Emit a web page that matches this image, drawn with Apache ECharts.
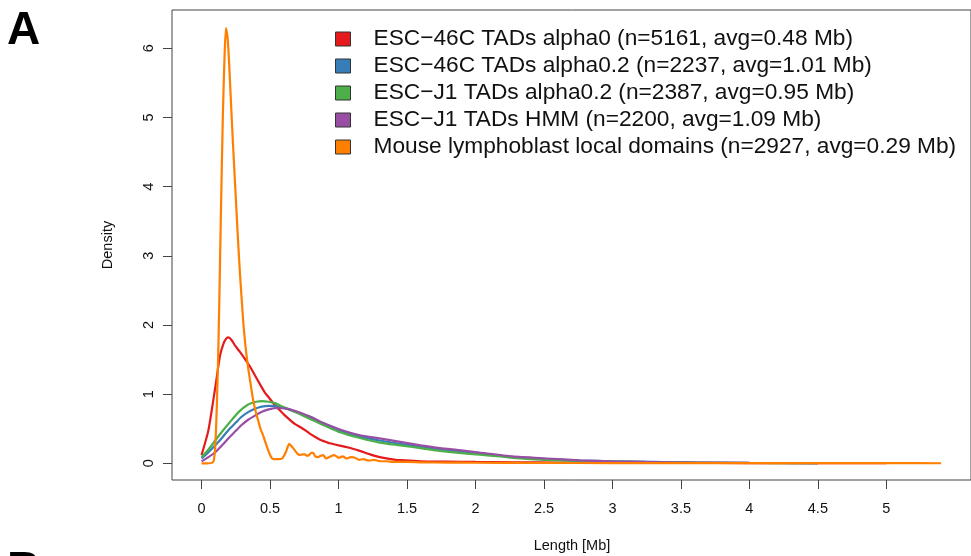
<!DOCTYPE html>
<html>
<head>
<meta charset="utf-8">
<script src="https://cdn.jsdelivr.net/npm/echarts@6/dist/echarts.min.js"></script>
<style>
html,body{margin:0;padding:0;background:#fff;}
#chart{width:971px;height:556px;}
</style>
</head>
<body>
<div id="chart"></div>
<script>
// ---- data ----
const seriesNames = [
  'ESC\u221246C TADs alpha0 (n=5161, avg=0.48 Mb)',
  'ESC\u221246C TADs alpha0.2 (n=2237, avg=1.01 Mb)',
  'ESC\u2212J1 TADs alpha0.2 (n=2387, avg=0.95 Mb)',
  'ESC\u2212J1 TADs HMM (n=2200, avg=1.09 Mb)',
  'Mouse lymphoblast local domains (n=2927, avg=0.29 Mb)'
];
const xTicks = [0, 0.5, 1, 1.5, 2, 2.5, 3, 3.5, 4, 4.5, 5];
const yTicks = [0, 1, 2, 3, 4, 5, 6];

const redX = [0, 0.05, 0.1, 0.135, 0.16, 0.178, 0.195, 0.22, 0.245, 0.28, 0.316, 0.35, 0.39, 0.43, 0.46, 0.5, 0.535, 0.57, 0.61, 0.68, 0.72, 0.755, 0.79, 0.83, 0.865, 0.9, 0.935, 1.01, 1.08, 1.155, 1.23, 1.3, 1.37, 1.45, 1.6, 1.8, 2.0, 2.3, 2.6, 3.0, 3.5, 4.0, 4.5, 5.0];
const redY = [0.12, 0.48, 1.10, 1.56, 1.73, 1.80, 1.82, 1.78, 1.70, 1.61, 1.51, 1.41, 1.27, 1.13, 1.03, 0.93, 0.84, 0.77, 0.69, 0.57, 0.525, 0.48, 0.43, 0.38, 0.34, 0.315, 0.29, 0.255, 0.225, 0.18, 0.13, 0.09, 0.065, 0.045, 0.03, 0.025, 0.02, 0.015, 0.01, 0.008, 0.006, 0.004, 0.003, 0.002];

const blueX = [0, 0.05, 0.1, 0.15, 0.2, 0.25, 0.29, 0.34, 0.39, 0.44, 0.49, 0.56, 0.62, 0.68, 0.74, 0.8, 0.86, 0.9, 1.01, 1.15, 1.3, 1.45, 1.6, 1.74, 1.88, 2.03, 2.18, 2.3, 2.5, 2.75, 3.0, 3.3, 3.6, 4.0, 4.5];
const blueY = [0.07, 0.16, 0.26, 0.37, 0.49, 0.59, 0.67, 0.74, 0.79, 0.82, 0.83, 0.82, 0.79, 0.745, 0.70, 0.65, 0.60, 0.565, 0.47, 0.39, 0.33, 0.28, 0.24, 0.20, 0.17, 0.14, 0.11, 0.085, 0.06, 0.04, 0.03, 0.02, 0.012, 0.006, 0.003];

const greenX = [0, 0.05, 0.1, 0.15, 0.2, 0.27, 0.34, 0.4, 0.44, 0.49, 0.535, 0.58, 0.63, 0.68, 0.73, 0.8, 0.86, 0.9, 1.01, 1.15, 1.3, 1.45, 1.6, 1.74, 1.88, 2.03, 2.18, 2.3, 2.5, 2.75, 3.0, 3.3, 3.6, 4.0, 4.5];
const greenY = [0.09, 0.2, 0.33, 0.46, 0.58, 0.74, 0.85, 0.89, 0.90, 0.89, 0.87, 0.83, 0.79, 0.745, 0.70, 0.635, 0.58, 0.545, 0.45, 0.37, 0.30, 0.26, 0.22, 0.18, 0.15, 0.125, 0.10, 0.075, 0.05, 0.035, 0.025, 0.015, 0.01, 0.005, 0.002];

const purpleX = [0, 0.05, 0.1, 0.15, 0.2, 0.25, 0.29, 0.34, 0.39, 0.44, 0.49, 0.56, 0.62, 0.68, 0.72, 0.8, 0.86, 0.9, 1.01, 1.15, 1.3, 1.45, 1.6, 1.74, 1.88, 2.03, 2.27, 2.52, 2.76, 3.0, 3.24, 3.6, 4.0, 4.5];
const purpleY = [0.03, 0.09, 0.16, 0.26, 0.37, 0.47, 0.55, 0.63, 0.69, 0.745, 0.78, 0.80, 0.79, 0.76, 0.73, 0.67, 0.61, 0.575, 0.49, 0.41, 0.36, 0.31, 0.26, 0.22, 0.19, 0.155, 0.10, 0.07, 0.043, 0.03, 0.02, 0.012, 0.006, 0.003];

const orangeX = [0, 0.04, 0.08, 0.09, 0.1, 0.11, 0.12, 0.13, 0.14, 0.155, 0.168, 0.178, 0.19, 0.202, 0.215, 0.231, 0.247, 0.263, 0.28, 0.304, 0.32, 0.34, 0.36, 0.377, 0.395, 0.413, 0.43, 0.45, 0.47, 0.486, 0.5, 0.515, 0.53, 0.56, 0.588, 0.615, 0.64, 0.66, 0.68, 0.70, 0.717, 0.735, 0.754, 0.77, 0.785, 0.8, 0.814, 0.83, 0.85, 0.87, 0.887, 0.91, 0.94, 0.97, 1.0, 1.03, 1.06, 1.09, 1.12, 1.15, 1.18, 1.22, 1.26, 1.3, 1.35, 1.4, 1.5, 1.6, 1.8, 2.0, 2.5, 3.0, 3.5, 4.0, 4.5, 5.0, 5.4];
const orangeY = [0, 0, 0.01, 0.05, 0.25, 0.75, 1.45, 2.4, 3.5, 5.0, 5.9, 6.29, 6.15, 5.75, 5.2, 4.55, 3.95, 3.34, 2.75, 2.05, 1.7, 1.38, 1.12, 0.91, 0.75, 0.62, 0.5, 0.4, 0.28, 0.19, 0.12, 0.07, 0.06, 0.06, 0.07, 0.16, 0.28, 0.24, 0.19, 0.14, 0.12, 0.13, 0.13, 0.11, 0.12, 0.15, 0.15, 0.10, 0.09, 0.11, 0.12, 0.07, 0.10, 0.12, 0.08, 0.10, 0.07, 0.09, 0.08, 0.05, 0.06, 0.04, 0.05, 0.03, 0.03, 0.02, 0.02, 0.015, 0.01, 0.008, 0.005, 0.004, 0.003, 0.003, 0.002, 0.002, 0.001];

const colors = ['#E41A1C', '#377EB8', '#4DAF4A', '#984EA3', '#FF7F00'];
// ---- chart ----
const FONT = "'Liberation Sans', Arial, Helvetica, sans-serif";
const zip = (xs, ys) => xs.map((x, i) => [x, ys[i]]);
const seriesData = [zip(redX, redY), zip(blueX, blueY), zip(greenX, greenY), zip(purpleX, purpleY), zip(orangeX, orangeY)];

const chart = echarts.init(document.getElementById('chart'), null, {renderer: 'canvas'});
chart.setOption({
  animation: false,
  backgroundColor: '#fff',
  grid: {left: 172, top: 10, width: 800, height: 470, show: true, borderColor: '#444', borderWidth: 1, backgroundColor: 'transparent'},
  xAxis: {
    type: 'value', min: -0.216, max: 5.618,
    axisLine: {show: false, onZero: false},
    splitLine: {show: false},
    axisTick: {show: true, length: 9, customValues: xTicks, lineStyle: {color: '#444', width: 1}},
    axisLabel: {customValues: xTicks, fontSize: 14.5, color: '#111', fontFamily: FONT, margin: 21,
      formatter: v => String(v)}
  },
  yAxis: {
    type: 'value', min: -0.241, max: 6.553,
    axisLine: {show: false, onZero: false},
    splitLine: {show: false},
    axisTick: {show: true, length: 9, customValues: yTicks, lineStyle: {color: '#444', width: 1}},
    axisLabel: {customValues: yTicks, rotate: 90, fontSize: 14.5, color: '#111', fontFamily: FONT, margin: 16,
      formatter: v => String(v)}
  },
  legend: {
    orient: 'vertical', left: 335, top: 25.5, padding: 0, itemGap: 0,
    icon: 'rect', itemWidth: 15, itemHeight: 14,
    itemStyle: {borderColor: '#333', borderWidth: 1},
    textStyle: {fontSize: 22.7, lineHeight: 27, color: '#111', fontFamily: FONT, padding: [0, 0, 0, 18]},
    data: seriesNames
  },
  series: seriesNames.map((n, i) => ({
    name: n, type: 'line', data: seriesData[i],
    showSymbol: false, symbol: 'none', smooth: 0.2,
    color: colors[i],
    lineStyle: {color: colors[i], width: 2.2},
    itemStyle: {color: colors[i], borderColor: '#333', borderWidth: 1},
    emphasis: {disabled: true}
  })),
  graphic: [
    {type: 'text', x: 108, y: 245, rotation: Math.PI / 2,
      style: {text: 'Density', font: '14.5px ' + FONT, fill: '#111', align: 'center', verticalAlign: 'middle'}},
    {type: 'text', x: 572, y: 546,
      style: {text: 'Length [Mb]', font: '14.5px ' + FONT, fill: '#111', align: 'center', verticalAlign: 'middle'}},
    {type: 'text', x: 7, y: 31,
      style: {text: 'A', font: 'bold 46px ' + FONT, fill: '#000', align: 'left', verticalAlign: 'middle'}},
    {type: 'text', x: 7, y: 571,
      style: {text: 'B', font: 'bold 46px ' + FONT, fill: '#000', align: 'left', verticalAlign: 'middle'}}
  ]
});
</script>
</body>
</html>
